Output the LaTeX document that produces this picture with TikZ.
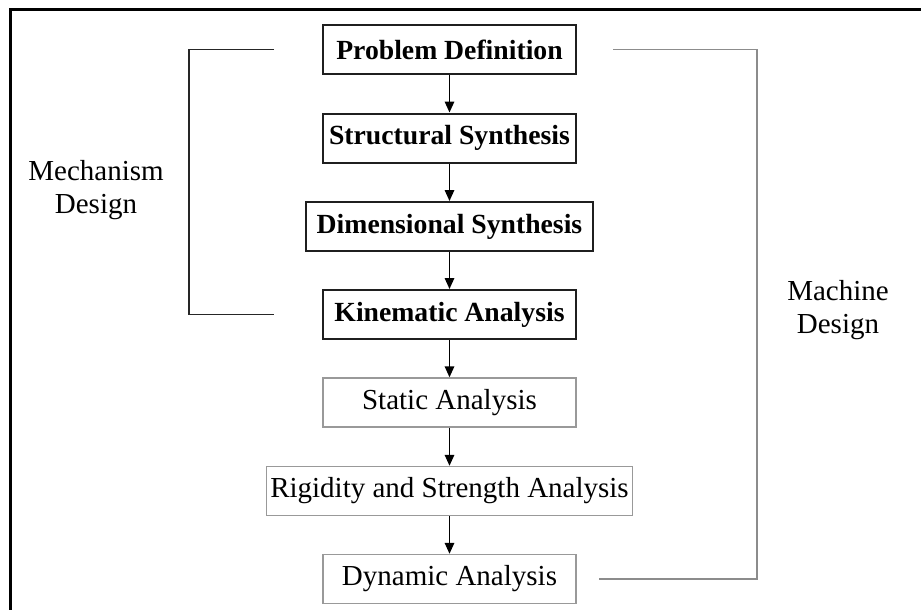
\documentclass[tikz,border=0pt]{standalone}
\usepackage{fontspec}
\setmainfont{Liberation Serif}
\usetikzlibrary{arrows.meta}
\begin{document}
\begin{tikzpicture}[x=1pt,y=-1pt,
  mainbox/.style={draw=black!88, line width=2pt, minimum height=49pt,
    inner sep=0pt, font=\fontsize{27.7}{32}\selectfont\bfseries},
  subbox/.style={draw=black!40, line width=1.4pt, minimum height=49pt,
    inner sep=0pt, font=\fontsize{29}{32}\selectfont},
  flow/.style={draw=black, line width=1.6pt, -{Triangle[length=11pt,width=9.5pt]}},
  mechline/.style={draw=black!85, line width=1.8pt},
  machline/.style={draw=black!45, line width=1.4pt},
  sidelabel/.style={align=center, inner sep=0pt, font=\fontsize{29}{32.5}\selectfont}]
\useasboundingbox (0,0) rectangle (921,610);

% frame
\draw[line width=3pt] (10.5,610) -- (10.5,9.5) -- (921,9.5);

% process steps
\node[mainbox, minimum width=253pt] (pd) at (449.5,49.5)  {Problem Definition};
\node[mainbox, minimum width=253pt] (ss) at (449.5,138)   {Structural Synthesis};
\node[mainbox, minimum width=287pt] (ds) at (449.5,226.5) {Dimensional Synthesis};
\node[mainbox, minimum width=253pt] (ka) at (449.5,314.5) {Kinematic Analysis};
\node[subbox,  minimum width=253pt] (sa) at (449.5,402.5) {Static Analysis};
\node[subbox,  minimum width=366pt] (rs) at (449.5,491)   {Rigidity and Strength Analysis};
\node[subbox,  minimum width=253pt] (da) at (449.5,579)   {Dynamic Analysis};

\draw[flow] (pd) -- (ss);
\draw[flow] (ss) -- (ds);
\draw[flow] (ds) -- (ka);
\draw[flow] (ka) -- (sa);
\draw[flow] (sa) -- (rs);
\draw[flow] (rs) -- (da);

% mechanism design bracket
\coordinate (mt) at (274,49.5);
\coordinate (mb) at (274,314.5);
\draw[mechline] (mt) -- (189,49.5) -- (189,314.5) -- (mb);
\node[sidelabel] (mech) at (96,190) {Mechanism\\Design};

% machine design bracket
\coordinate (nt) at (613,49.5);
\coordinate (nb) at (599,579);
\draw[machline] (nt) -- (757,49.5) -- (757,579) -- (nb);
\node[sidelabel] (mach) at (838,310) {Machine\\Design};
\end{tikzpicture}
\end{document}
